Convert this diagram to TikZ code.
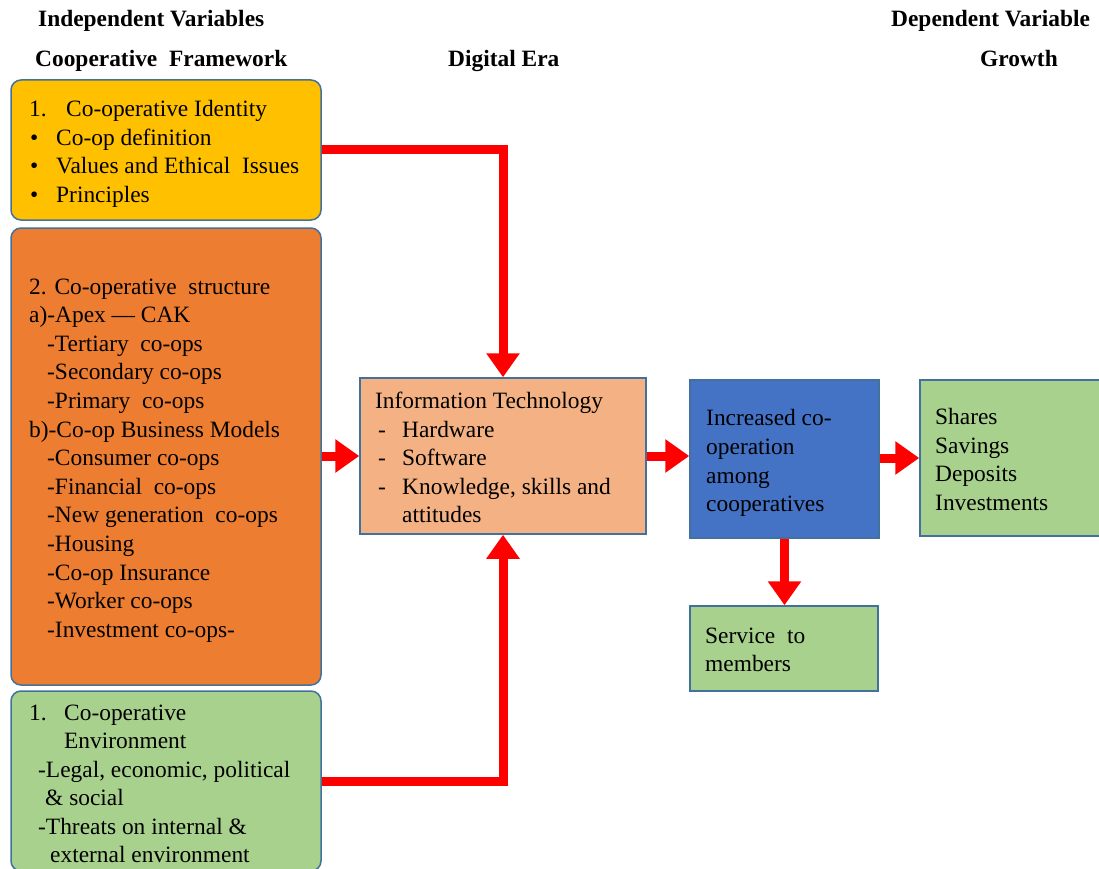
\documentclass[tikz,border=0pt]{standalone}
\usepackage{fontspec}
\setmainfont{Liberation Serif}
\usetikzlibrary{arrows.meta}
\definecolor{bordc}{HTML}{41719C}
\definecolor{yelc}{HTML}{FFC000}
\definecolor{orac}{HTML}{ED7D31}
\definecolor{grnc}{HTML}{A9D18E}
\definecolor{salc}{HTML}{F4B183}
\definecolor{bluc}{HTML}{4472C4}
\begin{document}
\begin{tikzpicture}[x=1pt,y=-1pt,
  box/.style={draw=bordc,line width=1.5pt,rectangle,inner sep=0pt},
  rbox/.style={box,rounded corners=10pt},
  txt/.style={anchor=base west,inner sep=0pt,font=\fontsize{23.4}{28}\selectfont},
  hdr/.style={anchor=base west,inner sep=0pt,font=\fontsize{23.4}{28}\selectfont\bfseries},
  conn/.style={draw=red,line width=9pt,line join=miter,-{Triangle[width=32pt,length=24pt]}}]
\useasboundingbox (0,0) rectangle (1099,869);
\clip (0,0) rectangle (1099,869);
% headers
\node[hdr] (h1) at (38,27) {Independent Variables};
\node[hdr] (h2) at (35,67) {Cooperative\ \ Framework};
\node[hdr] (h3) at (448,67) {Digital Era};
\node[hdr] (h4) at (891,27) {Dependent Variable};
\node[hdr] (h5) at (980,67) {Growth};
% boxes
\node[rbox,fill=yelc,minimum width=310pt,minimum height=140pt] (yel) at (166,150) {};
\node[rbox,fill=orac,minimum width=310pt,minimum height=457pt] (ora) at (166,456.5) {};
\node[rbox,fill=grnc,minimum width=310pt,minimum height=180pt] (env) at (166,781) {};
\node[box,fill=salc,minimum width=286pt,minimum height=156pt] (it) at (503,456) {};
\node[box,fill=bluc,minimum width=189pt,minimum height=158pt] (blu) at (784.5,459) {};
\node[box,fill=grnc,minimum width=186pt,minimum height=156pt] (sha) at (1013,458) {};
\node[box,fill=grnc,minimum width=188pt,minimum height=85pt] (ser) at (784,648.5) {};
% yellow text
\node[txt] (y1a) at (29,117) {1.};
\node[txt] (y1) at (66,117) {Co-operative Identity};
\node[txt] (y2a) at (30,146) {•};
\node[txt] (y2) at (56,146) {Co-op definition};
\node[txt] (y3a) at (30,174) {•};
\node[txt] (y3) at (56,174) {Values and Ethical\ \ Issues};
\node[txt] (y4a) at (30,202) {•};
\node[txt] (y4) at (56,202) {Principles};
% orange text
\node[txt] (o1) at (29,294) {2. Co-operative\ \ structure};
\node[txt] (o2) at (29,322.6) {a)-Apex — CAK};
\node[txt] (o3) at (47,351.2) {-Tertiary\ \ co-ops};
\node[txt] (o4) at (47,379.8) {-Secondary co-ops};
\node[txt] (o5) at (47,408.4) {-Primary\ \ co-ops};
\node[txt] (o6) at (29,437) {b)-Co-op Business Models};
\node[txt] (o7) at (47,465.6) {-Consumer co-ops};
\node[txt] (o8) at (47,494.2) {-Financial\ \ co-ops};
\node[txt] (o9) at (47,522.8) {-New generation\ \ co-ops};
\node[txt] (o10) at (47,551.4) {-Housing};
\node[txt] (o11) at (47,580) {-Co-op Insurance};
\node[txt] (o12) at (47,608.6) {-Worker co-ops};
\node[txt] (o13) at (47,637.2) {-Investment co-ops-};
% green env text
\node[txt] (e1a) at (29,720) {1.};
\node[txt] (e1) at (64,720) {Co-operative};
\node[txt] (e2) at (64,748) {Environment};
\node[txt] (e3) at (38,777) {-Legal,\ economic, political};
\node[txt] (e4) at (45,805) {\& social};
\node[txt] (e5) at (38,834) {-Threats on internal \&};
\node[txt] (e6) at (50,862) {external environment};
% IT text
\node[txt] (i1) at (375,408) {Information Technology};
\node[txt] (i2a) at (378,437) {-};
\node[txt] (i2) at (402,437) {Hardware};
\node[txt] (i3a) at (378,465) {-};
\node[txt] (i3) at (402,465) {Software};
\node[txt] (i4a) at (378,494) {-};
\node[txt] (i4) at (402,494) {Knowledge, skills\ and};
\node[txt] (i5) at (402,522) {attitudes};
% blue text
\node[txt] (b1) at (706,425) {Increased co-};
\node[txt] (b2) at (706,454) {operation};
\node[txt] (b3) at (706,483) {among};
\node[txt] (b4) at (706,511) {cooperatives};
% shares text
\node[txt] (s1) at (935,424) {Shares};
\node[txt] (s2) at (935,453) {Savings};
\node[txt] (s3) at (935,481) {Deposits};
\node[txt] (s4) at (935,510) {Investments};
% service text
\node[txt] (v1) at (705,643) {Service\ \ to};
\node[txt] (v2) at (705,671) {members};
% connectors
\draw[conn] (yel.east) -| (it.north);
\draw[conn] (env.east) -| (it.south);
\draw[conn] (ora.east |- it.west) -- (it.west);
\draw[conn] (it.east) -- (it.east -| blu.west);
\draw[conn] (blu.east |- sha.west) -- (sha.west);
\draw[conn] (blu.south) -- (blu.south |- ser.north);
\end{tikzpicture}
\end{document}
